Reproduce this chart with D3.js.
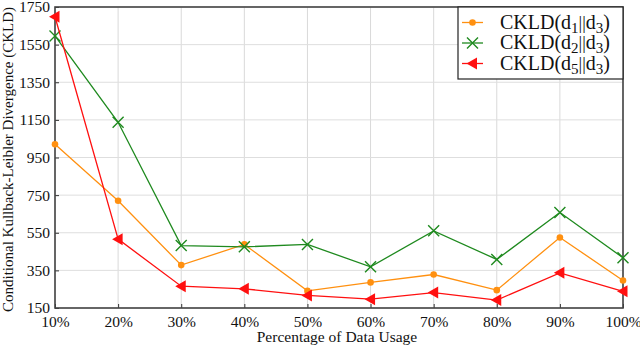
<!DOCTYPE html>
<html><head><meta charset="utf-8">
<script src="https://cdn.jsdelivr.net/npm/d3@7"></script>
<style>body{margin:0;background:#fff}svg{display:block}</style>
</head><body>
<svg id="c" width="640" height="347"></svg>
<script>
const categories = ["10%","20%","30%","40%","50%","60%","70%","80%","90%","100%"];
const yTicks = [150,350,550,750,950,1150,1350,1550,1750];
const d1 = [1020,720,378,488,241,286,328,245,525,296];
const d2 = [1596,1137,482,475,488,369,560,408,658,417];
const d5 = [1698,516,266,252,217,197,232,192,337,239];
const seriesNames = ["d1","d2","d5"];

const svg = d3.select("#c");
const L=55, R=623, T=7, B=308;
const x = d3.scalePoint().domain(categories).range([L,R]);
const y = d3.scaleLinear().domain([150,1750]).range([B,T]);
const font = "'Liberation Serif','Times New Roman',serif";

// grid
svg.append("g").selectAll("line").data(categories).join("line")
  .attr("x1",d=>x(d)).attr("x2",d=>x(d)).attr("y1",T).attr("y2",B)
  .attr("stroke","#d9d9d9").attr("stroke-width",1);
svg.append("g").selectAll("line").data(yTicks).join("line")
  .attr("x1",L).attr("x2",R).attr("y1",d=>y(d)).attr("y2",d=>y(d))
  .attr("stroke","#dedede").attr("stroke-width",1);

// axes
const xa = svg.append("g").attr("transform",`translate(0,${B})`)
  .call(d3.axisBottom(x).tickSize(-4).tickPadding(10));
const ya = svg.append("g").attr("transform",`translate(${L},0)`)
  .call(d3.axisLeft(y).tickValues(yTicks).tickSize(-4).tickPadding(5).tickFormat(d3.format("d")));
[xa,ya].forEach(a=>{
  a.select(".domain").remove();
  a.selectAll(".tick line").attr("stroke","#333");
  a.selectAll("text").attr("font-family",font).attr("font-size",15.5).attr("fill","#111");
});
xa.selectAll("text").attr("dy","0.55em");
ya.selectAll("text").attr("dy","0.32em");

// frame
svg.append("rect").attr("x",L).attr("y",T).attr("width",R-L).attr("height",B-T)
  .attr("fill","none").attr("stroke","#444").attr("stroke-width",1.6);

const line = d3.line().x((d,i)=>x(categories[i])).y(d=>y(d));
const specs = [
  {data:d1,color:"#ff9010",marker:"circle"},
  {data:d2,color:"#1f8a1f",marker:"x"},
  {data:d5,color:"#ff1010",marker:"tri"}
];
function drawMarker(g,type,color,cx,cy){
  if(type==="circle"){
    g.append("circle").attr("cx",cx).attr("cy",cy).attr("r",3.3).attr("fill",color);
  } else if(type==="x"){
    const s=5.5;
    g.append("path").attr("d",`M${cx-s},${cy-s}L${cx+s},${cy+s}M${cx-s},${cy+s}L${cx+s},${cy-s}`)
      .attr("stroke",color).attr("stroke-width",1.4).attr("fill","none");
  } else {
    const s=6;
    g.append("path").attr("d",`M${cx-s},${cy}L${cx+s*0.75},${cy-s}L${cx+s*0.75},${cy+s}Z`)
      .attr("fill",color);
  }
}
specs.forEach(s=>{
  svg.append("path").datum(s.data).attr("d",line).attr("fill","none")
    .attr("stroke",s.color).attr("stroke-width",1.3);
  const g = svg.append("g");
  s.data.forEach((v,i)=>drawMarker(g,s.marker,s.color,x(categories[i]),y(v)));
});

// legend
const lg = svg.append("g");
lg.append("rect").attr("x",458).attr("y",T).attr("width",165).attr("height",72)
  .attr("fill","#fff").attr("stroke","#222").attr("stroke-width",1.2);
const subs = ["1","2","5"];
specs.forEach((s,i)=>{
  const cy = 22.5 + i*20.5;
  lg.append("line").attr("x1",462).attr("x2",483).attr("y1",cy).attr("y2",cy)
    .attr("stroke",s.color).attr("stroke-width",1.3);
  drawMarker(lg,s.marker,s.color,472.5,cy);
  const t = lg.append("text").attr("x",500).attr("y",cy+6).attr("font-family",font)
    .attr("font-size",20).attr("fill","#111");
  t.append("tspan").text("CKLD(d");
  t.append("tspan").text(subs[i]).attr("font-size",15).attr("dy",4);
  t.append("tspan").text("||").attr("dy",-4).attr("font-size",18);
  t.append("tspan").text("d");
  t.append("tspan").text("3").attr("font-size",15).attr("dy",4);
  t.append("tspan").text(")").attr("dy",-4);
});

// axis titles
svg.append("text").attr("x",(L+R)/2-2).attr("y",342).attr("text-anchor","middle")
  .attr("font-family",font).attr("font-size",15.5).attr("fill","#111").text("Percentage of Data Usage");
svg.append("text").attr("transform",`translate(13,${(T+B)/2+2}) rotate(-90)`).attr("text-anchor","middle")
  .attr("font-family",font).attr("font-size",15).attr("fill","#111")
  .text("Conditional Kullback-Leibler Divergence (CKLD)");
</script>
</body></html>
